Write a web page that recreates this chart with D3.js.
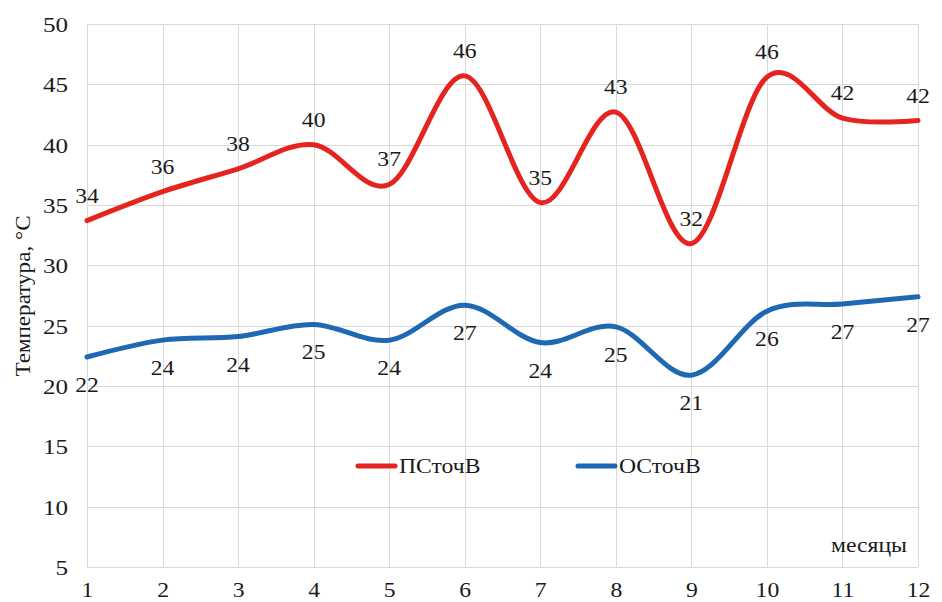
<!DOCTYPE html>
<html>
<head>
<meta charset="utf-8">
<script src="https://cdn.jsdelivr.net/npm/d3@7"></script>
<style>
  html, body { margin: 0; padding: 0; background: #ffffff; }
  svg { display: block; }
  svg text { font-family: "Liberation Serif", "Times New Roman", serif; fill: #1a1a1a; }
</style>
</head>
<body>
<svg id="chart" width="942" height="602"></svg>
<script>
// Monthly temperatures of two wastewater streams
const months = [1, 2, 3, 4, 5, 6, 7, 8, 9, 10, 11, 12];
const pstochV = [33.7, 36.1, 38.0, 40.0, 36.7, 45.7, 35.2, 42.7, 31.8, 45.6, 42.2, 42.0];
const ostochV = [22.4, 23.8, 24.1, 25.1, 23.8, 26.7, 23.6, 24.9, 20.9, 26.2, 26.8, 27.4];
const yTicks = [5, 10, 15, 20, 25, 30, 35, 40, 45, 50];
const seriesNames = ["ПСточВ", "ОСточВ"];
const seriesColors = ["#e5231f", "#1f68b3"];

const serif = '"Liberation Serif", "Times New Roman", serif';
const fontSize = 21.5;
const widen = "scale(1.1,1)";   // slightly wide lettering

const svg = d3.select("#chart");
const plot = { left: 87, right: 918, top: 24, bottom: 567 };

const x = d3.scaleLinear().domain([1, 12]).range([plot.left, plot.right]);
const y = d3.scaleLinear().domain([5, 50]).range([plot.bottom, plot.top]);

// Gridlines
const grid = svg.append("g").attr("stroke", "#d9d9d9").attr("stroke-width", 1);
grid.selectAll("line.h").data(yTicks).join("line")
  .attr("x1", plot.left).attr("x2", plot.right)
  .attr("y1", d => Math.round(y(d)) + 0.5).attr("y2", d => Math.round(y(d)) + 0.5);
grid.selectAll("line.v").data(months).join("line")
  .attr("y1", plot.top).attr("y2", plot.bottom)
  .attr("x1", d => Math.round(x(d)) + 0.5).attr("x2", d => Math.round(x(d)) + 0.5);

// Axes (labels only; lines come from the grid)
const yAxis = svg.append("g")
  .attr("transform", `translate(${plot.left - 19},0)`)
  .call(d3.axisLeft(y).tickValues(yTicks).tickSize(0).tickPadding(0));
yAxis.attr("font-family", null).attr("font-size", null);
yAxis.select(".domain").remove();
yAxis.selectAll("text")
  .attr("font-size", 22).style("font-family", serif).attr("fill", "#1a1a1a")
  .attr("dy", "0.34em").attr("transform", "scale(1.14,1)");

const xAxis = svg.append("g")
  .attr("transform", `translate(0,${plot.bottom})`)
  .call(d3.axisBottom(x).tickValues(months).tickFormat(d3.format("d")).tickSize(0).tickPadding(0));
xAxis.attr("font-family", null).attr("font-size", null);
xAxis.select(".domain").remove();
xAxis.selectAll("text")
  .attr("font-size", fontSize).style("font-family", serif).attr("fill", "#1a1a1a")
  .attr("dy", null).attr("y", 30).attr("transform", widen);

// Axis titles
svg.append("text")
  .attr("transform", `translate(30,296) rotate(-90) ${widen}`)
  .attr("text-anchor", "middle")
  .attr("font-size", 21)
  .style("font-family", serif)
  .text("Температура, °С");

svg.append("text")
  .attr("transform", `translate(907,552) ${widen}`)
  .attr("text-anchor", "end")
  .attr("font-size", fontSize)
  .style("font-family", serif)
  .text("месяцы");

// Smoothed series lines
const line = d3.line()
  .x((d, i) => x(months[i]))
  .y(d => y(d))
  .curve(d3.curveCardinal.tension(0));

const series = [pstochV, ostochV];
svg.append("g").selectAll("path").data(series).join("path")
  .attr("d", d => line(d))
  .attr("fill", "none")
  .attr("stroke", (d, i) => seriesColors[i])
  .attr("stroke-width", 5)
  .attr("stroke-linecap", "round")
  .attr("stroke-linejoin", "round");

// Data labels: first series above the line, second below
const fmt = d3.format(".0f");
const labelOffset = [-18, 35];
series.forEach((vals, s) => {
  svg.append("g").selectAll("text").data(vals).join("text")
    .attr("transform", (d, i) => `translate(${x(months[i])},${y(d) + labelOffset[s]}) ${widen}`)
    .attr("text-anchor", "middle")
    .attr("font-size", fontSize)
    .style("font-family", serif)
    .text(d => fmt(d));
});

// Legend
const legend = [
  { name: seriesNames[0], color: seriesColors[0], x: 358 },
  { name: seriesNames[1], color: seriesColors[1], x: 578 }
];
const lg = svg.append("g").selectAll("g").data(legend).join("g")
  .attr("transform", d => `translate(${d.x},466)`);
lg.append("line")
  .attr("x1", 0).attr("x2", 37).attr("y1", 0).attr("y2", 0)
  .attr("stroke", d => d.color).attr("stroke-width", 5).attr("stroke-linecap", "round");
lg.append("text")
  .attr("transform", `translate(41,7) ${widen}`)
  .attr("font-size", fontSize)
  .style("font-family", serif)
  .text(d => d.name);
</script>
</body>
</html>
